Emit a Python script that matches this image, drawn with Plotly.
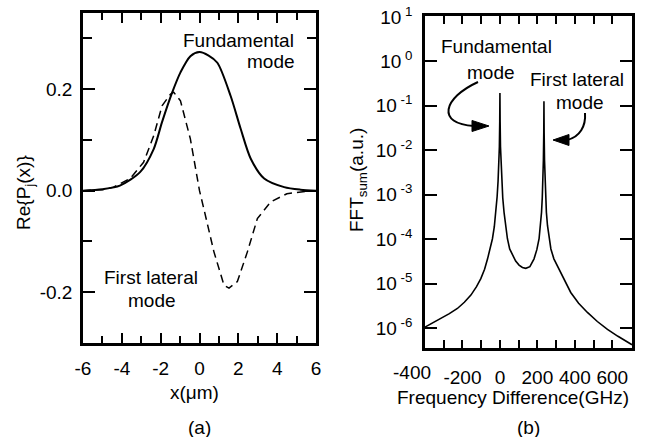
import plotly.graph_objects as go

# ---------------- data ----------------
# (a) mode profiles
x_fund = [-6, -5, -4.1, -3.05, -2.36, -1.93, -1.41, -0.98, -0.47, 0, 0.47, 0.92, 1.6, 2.12, 2.64, 3.33, 4.36, 5.2, 6]
y_fund = [0.0, 0.003, 0.010, 0.037, 0.082, 0.135, 0.193, 0.233, 0.265, 0.273, 0.266, 0.252, 0.187, 0.122, 0.063, 0.024, 0.007, 0.002, 0.0]

x_lat = [-6, -5, -4.43, -3.57, -2.88, -2.36, -1.93, -1.5, -1.33, -0.98, -0.47, 0.0, 0.22, 0.74, 1.26, 1.52, 1.95, 2.47, 2.98, 3.67, 4.5, 5.7, 6]
y_lat = [0.0, 0.002, 0.007, 0.024, 0.056, 0.108, 0.167, 0.19, 0.194, 0.177, 0.102, 0.0, -0.035, -0.12, -0.186, -0.192, -0.179, -0.12, -0.055, -0.022, -0.006, 0.0, 0.0]

# (b) FFT sum spectrum
freq = [-400, -360, -316, -270, -227, -190, -155, -125, -102, -82, -66, -52, -40, -30, -22, -15, -10, -6, -3, -1, 0,
        1, 3, 6, 10, 15, 22, 30, 40, 52, 67, 84, 102, 120, 138, 160,
        182, 197, 209, 217, 222, 226, 229, 232, 234, 235, 236, 238, 241, 244, 248, 254, 262, 272, 288, 307,
        340, 378, 420, 467, 520, 574, 630, 681, 705]
fft = [1.05e-6, 1.3e-6, 1.62e-6, 2.1e-6, 2.75e-6, 3.8e-6, 5.5e-6, 8.5e-6, 1.29e-5, 2.1e-5, 3.6e-5, 6.0e-5, 1.02e-4, 1.9e-4, 4.1e-4, 9.0e-4, 2.0e-3, 4.5e-3, 1.2e-2, 4.5e-2, 1.95e-1,
       4.5e-2, 1.2e-2, 4.5e-3, 1.9e-3, 8.5e-4, 4.0e-4, 2.0e-4, 1.02e-4, 6.0e-5, 4.3e-5, 3.2e-5, 2.6e-5, 2.3e-5, 2.2e-5, 2.4e-5,
       3.6e-5, 5.8e-5, 1.02e-4, 2.0e-4, 4.0e-4, 8.5e-4, 1.9e-3, 6.0e-3, 2.5e-2, 1.26e-1, 2.5e-2, 6.0e-3, 1.9e-3, 8.5e-4, 4.0e-4, 2.0e-4, 1.02e-4, 6.0e-5, 3.6e-5, 2.5e-5,
       1.3e-5, 6.3e-6, 3.6e-6, 2.24e-6, 1.4e-6, 9.3e-7, 6.5e-7, 4.7e-7, 4.2e-7]

xa_ticks = [-6, -4, -2, 0, 2, 4, 6]
xa_text = ["-6", "-4", "-2", "0", "2", "4", "6"]
ya_ticks = [-0.2, 0.0, 0.2]
ya_text = ["-0.2", "0.0", "0.2"]
xb_ticks = [-400, -200, 0, 200, 400, 600]
xb_text = ["", "-200", "0", "200", "400", "600"]   # "-400" is placed as an annotation (offset like the original)
yb_ticks = [1e-6, 1e-5, 1e-4, 1e-3, 1e-2, 1e-1, 1e0, 1e1]
yb_text = ["10<sup> -6</sup>", "10<sup> -5</sup>", "10<sup> -4</sup>", "10<sup> -3</sup>",
           "10<sup> -2</sup>", "10<sup> -1</sup>", "10<sup> 0</sup>", "10<sup> 1</sup>"]

# ---------------- figure ----------------
W, H = 650, 437
FONT = "Liberation Sans, Arial, Helvetica, sans-serif"


def px(x):
    return x / W


def py(y):
    return 1 - y / H


fig = go.Figure()
fig.add_trace(go.Scatter(x=x_fund, y=y_fund, mode="lines",
                         line=dict(color="black", width=2, shape="spline", smoothing=0.8),
                         xaxis="x", yaxis="y", showlegend=False))
fig.add_trace(go.Scatter(x=x_lat, y=y_lat, mode="lines",
                         line=dict(color="black", width=1.5, dash="8px,5px"),
                         xaxis="x", yaxis="y", showlegend=False))
fig.add_trace(go.Scatter(x=freq, y=fft, mode="lines",
                         line=dict(color="black", width=1.6),
                         xaxis="x2", yaxis="y2", showlegend=False))

axis_common = dict(showline=True, linecolor="black", linewidth=2.5, mirror="allticks",
                   ticks="inside", tickcolor="black", tickwidth=2, showgrid=False, zeroline=False,
                   automargin=False, tickangle=0,
                   tickfont=dict(family=FONT, size=19, color="black"), tickmode="array")

fig.update_layout(
    width=W, height=H, margin=dict(l=0, r=0, t=0, b=0),
    paper_bgcolor="white", plot_bgcolor="white",
    font=dict(family=FONT, size=19, color="black"),
    xaxis=dict(domain=[px(83), px(316)], range=[-6, 6], anchor="y",
               tickvals=xa_ticks, ticktext=xa_text, ticklen=10, ticklabelstandoff=6,
               minor=dict(dtick=1, tick0=0, ticks="inside", ticklen=7, tickwidth=2, tickcolor="black"),
               **axis_common),
    yaxis=dict(domain=[py(343), py(13)], range=[-0.3, 0.35], anchor="x",
               tickvals=ya_ticks, ticktext=ya_text, ticklen=12, ticklabelstandoff=4,
               minor=dict(dtick=0.1, tick0=0, ticks="inside", ticklen=9, tickwidth=2, tickcolor="black"),
               **axis_common),
    xaxis2=dict(domain=[px(425), px(632)], range=[-400, 705], anchor="y2",
                tickvals=xb_ticks, ticktext=xb_text, ticklen=8, ticklabelstandoff=10,
                minor=dict(dtick=100, tick0=0, ticks="inside", ticklen=8, tickwidth=2, tickcolor="black"),
                **axis_common),
    yaxis2=dict(domain=[py(348), py(16)], range=[-6.45, 1.02], type="log", anchor="x2",
                tickvals=yb_ticks, ticktext=yb_text, ticklen=12, ticklabelstandoff=6,
                **axis_common),
)

annots = [
    # axis titles and panel captions
    dict(x=px(25), y=py(193), text="Re{P<sub>j</sub>(x)}", textangle=-90),
    dict(x=px(194), y=py(392), text="x(μm)"),
    dict(x=px(199), y=py(427), text="(a)"),
    dict(x=px(358), y=py(180), text="FFT<sub>sum</sub>(a.u.)", textangle=-90),
    dict(x=px(513), y=py(397), text="Frequency Difference(GHz)"),
    dict(x=px(528), y=py(427), text="(b)"),
    dict(x=px(412), y=py(372), text="-400"),
    # labels panel (a)
    dict(x=px(238), y=py(40), text="Fundamental"),
    dict(x=px(271), y=py(62), text="mode"),
    dict(x=px(151), y=py(277), text="First lateral"),
    dict(x=px(152), y=py(300), text="mode"),
    # labels panel (b)
    dict(x=px(496), y=py(47), text="Fundamental"),
    dict(x=px(491), y=py(72), text="mode"),
    dict(x=px(577), y=py(80), text="First lateral"),
    dict(x=px(580), y=py(102), text="mode"),
]
for a in annots:
    a.update(xref="paper", yref="paper", showarrow=False, xanchor="center", yanchor="middle",
             font=dict(family=FONT, size=19, color="black"))
fig.update_layout(annotations=annots)


def P(x, y):
    return f"{px(x):.5f},{py(y):.5f}"


shapes = [
    # curved arrow to fundamental peak
    dict(type="path", path=f"M {P(478,82)} C {P(443,98)} {P(436,124)} {P(474,126)}",
         line=dict(color="black", width=2)),
    dict(type="path", path=f"M {P(472,120.5)} L {P(489,126)} L {P(472,131.5)} Z",
         fillcolor="black", line=dict(color="black", width=1)),
    # curved arrow to first lateral peak
    dict(type="path", path=f"M {P(585,113)} C {P(586,126)} {P(580,137)} {P(567,140)}",
         line=dict(color="black", width=2)),
    dict(type="path", path=f"M {P(569,134.5)} L {P(553,140)} L {P(569,145.5)} Z",
         fillcolor="black", line=dict(color="black", width=1)),
]
for s in shapes:
    s.update(xref="paper", yref="paper")
fig.update_layout(shapes=shapes)

fig.write_html("out.html", config={"displayModeBar": False},
               post_script="document.body.style.margin='0';document.body.style.overflow='hidden';")
